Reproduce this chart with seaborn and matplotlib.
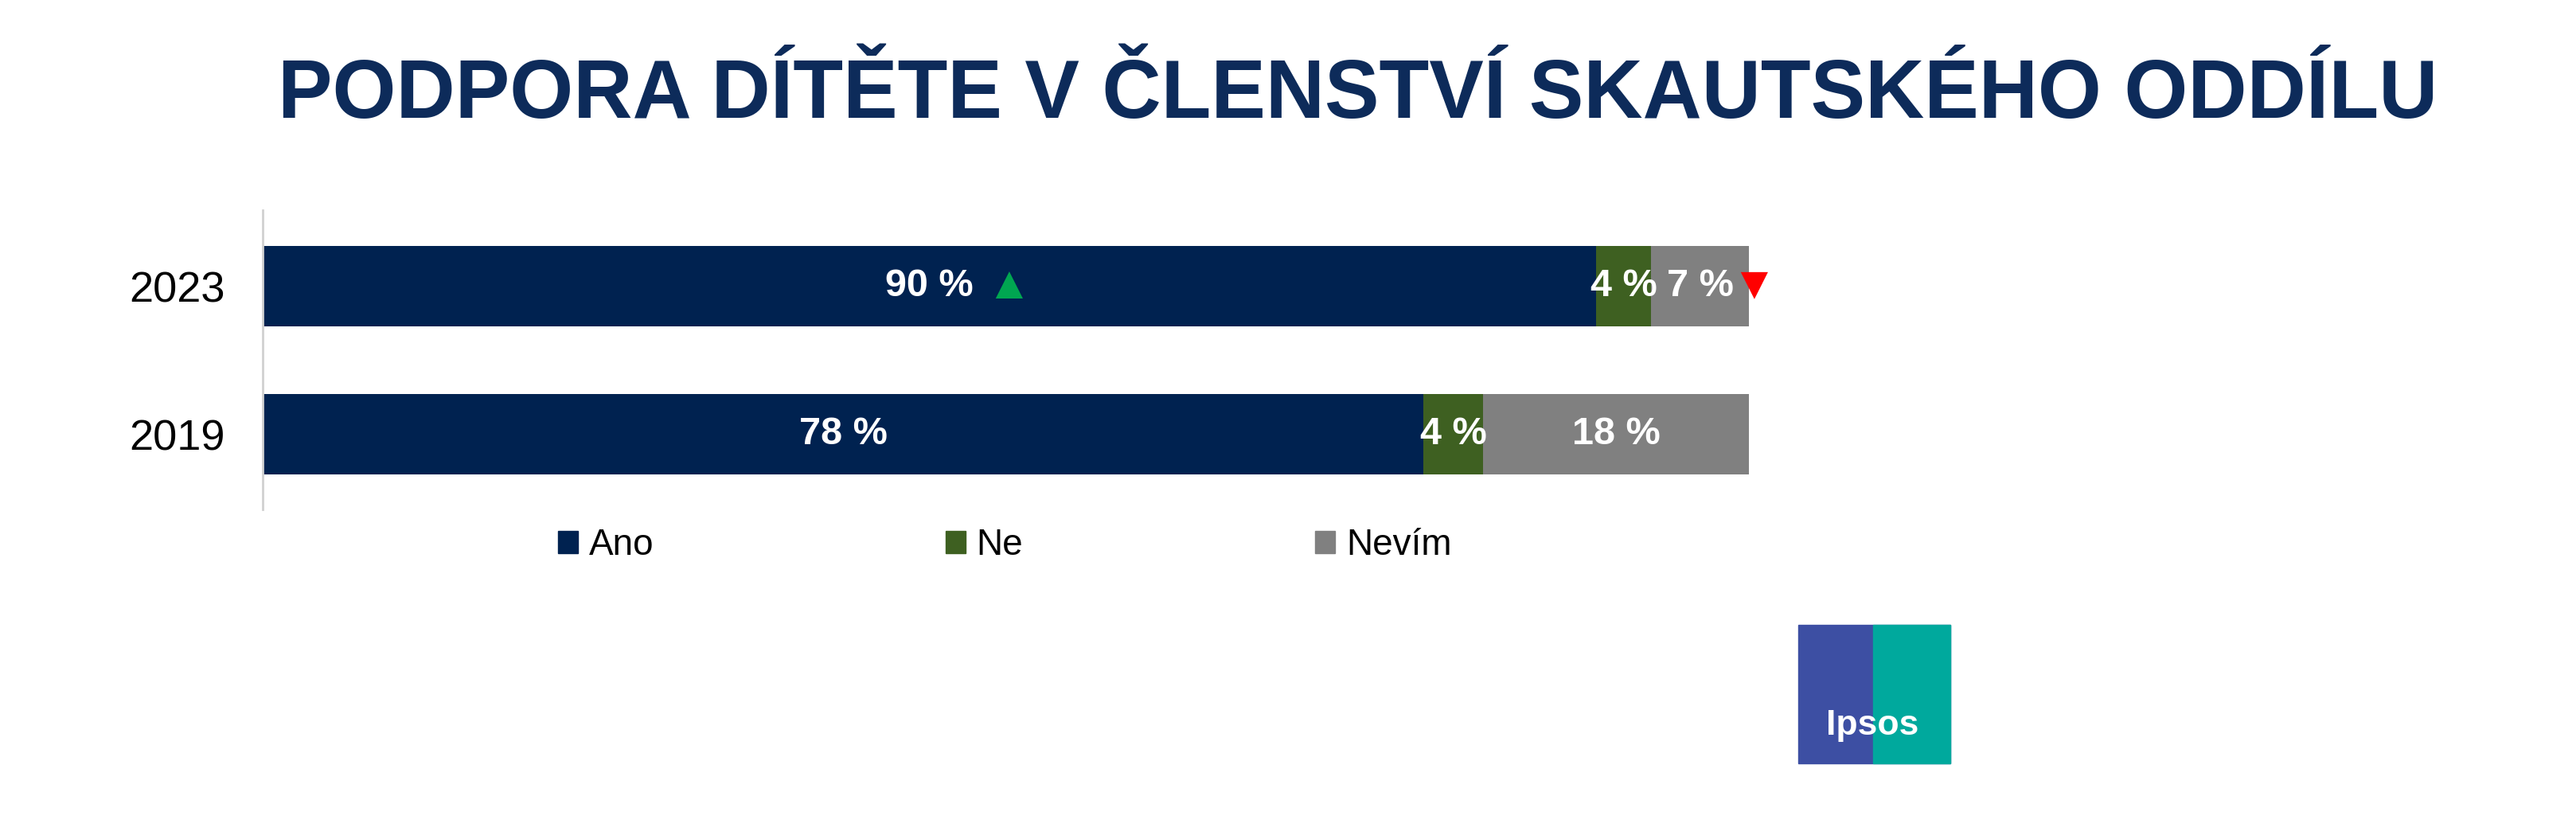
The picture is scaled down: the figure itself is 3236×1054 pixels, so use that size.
import matplotlib
matplotlib.use("Agg")
import matplotlib.pyplot as plt
import seaborn as sns
import pandas as pd
import numpy as np
from matplotlib.patches import Rectangle, Patch

years = ["2023", "2019"]
ano = [89.7, 78.1]
ne = [3.7, 4.0]
nevim = [6.6, 17.9]
labels_ano = ["90 %", "78 %"]
labels_ne = ["4 %", "4 %"]
labels_nevim = ["7 %", "18 %"]
series = ["Ano", "Ne", "Nevím"]
colors = ["#002250", "#3E6021", "#808080"]

plt.rcParams["font.family"] = "Liberation Sans"
fig = plt.figure(figsize=(32.36, 10.54), dpi=100)
ax = fig.add_axes([0.102, 0.393, 0.577, 0.357])

df = pd.DataFrame({"year": years, "Ano": ano, "Ne": ne, "Nevím": nevim})
df["c1"] = df["Ano"]
df["c2"] = df["Ano"] + df["Ne"]
df["c3"] = df["c2"] + df["Nevím"]
for col, c in zip(["c3", "c2", "c1"], colors[::-1]):
    sns.barplot(data=df, x=col, y="year", orient="h", color=c, width=0.544,
                saturation=1, ax=ax)

for i in range(len(years)):
    starts = [0, ano[i], ano[i] + ne[i]]
    widths = [ano[i], ne[i], nevim[i]]
    labs = [labels_ano[i], labels_ne[i], labels_nevim[i]]
    for s, w, l in zip(starts, widths, labs):
        ax.text(s + w / 2, i, l, ha="center", va="center", color="white",
                fontsize=35, fontweight="bold")

# significance markers for 2023
ax.annotate("\u25B2", xy=(ano[0] / 2, 0), xytext=(72, 0), textcoords="offset points",
            ha="center", va="center", color="#00A651", fontsize=42)
ax.annotate("\u25BC", xy=(ano[0] + ne[0] + nevim[0], 0), xytext=(4, 0),
            textcoords="offset points", ha="center", va="center",
            color="#FF0000", fontsize=42)

ax.set_xlim(0, 100)
ax.set_ylim(1.506, -0.517)
ax.set_xlabel("")
ax.set_ylabel("")
ax.set_xticks([])
for s in ["top", "right", "bottom"]:
    ax.spines[s].set_visible(False)
ax.spines["left"].set_color("#D0D0D0")
ax.spines["left"].set_linewidth(2)
ax.tick_params(axis="y", length=0, labelsize=39, pad=34)
ax.set_facecolor("none")

fig.text(0.527, 0.885, "PODPORA DÍTĚTE V ČLENSTVÍ SKAUTSKÉHO ODDÍLU",
         ha="center", va="center", fontsize=74, fontweight="bold", color="#0D2B5A")

handles = [Patch(color=c, label=s) for c, s in zip(colors, series)]
fig.legend(handles=handles, loc="center", bbox_to_anchor=(0.39, 0.35), ncol=3,
           frameon=False, fontsize=33, handlelength=0.55, handleheight=0.55,
           handletextpad=0.3, columnspacing=8.0)

# logo
fig.patches.append(Rectangle((0.698, 0.09), 0.059, 0.165, transform=fig.transFigure,
                             color="#3D4FA3"))
fig.patches.append(Rectangle((0.727, 0.09), 0.030, 0.165, transform=fig.transFigure,
                             color="#00A99D"))
fig.text(0.727, 0.135, "Ipsos", ha="center", va="center", color="white",
         fontsize=32, fontweight="bold")

fig.savefig("out.png", dpi=100)
